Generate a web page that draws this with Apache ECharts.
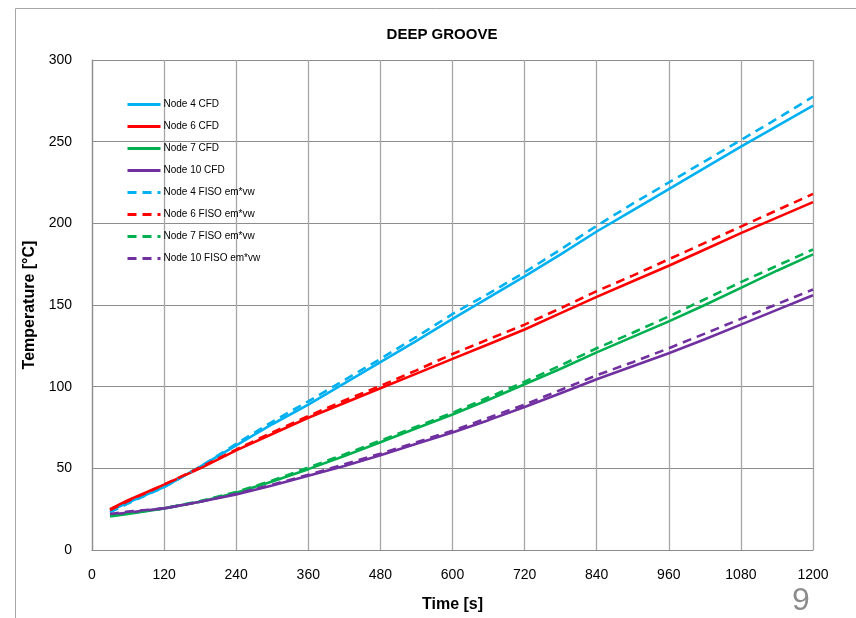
<!DOCTYPE html>
<html>
<head>
<meta charset="utf-8">
<script src="https://cdn.jsdelivr.net/npm/echarts@6/dist/echarts.min.js"></script>
<style>
	html, body { margin: 0; padding: 0; background: #fff; }
	#main { width: 856px; height: 618px; }
</style>
</head>
<body>
<div id="main"></div>
<script>
// time [s]
var timeS = [30, 60, 120, 180, 240, 300, 360, 420, 480, 540, 600, 660, 720, 780, 840, 900, 960, 1020, 1080, 1140, 1200];

// CFD
var node4Cfd  = [24, 29, 38.5, 51, 64, 77, 89, 102, 115, 128, 141.5, 154.5, 167.5, 181, 195, 208, 221, 234, 247, 259.5, 272];
var node6Cfd  = [25, 30.5, 40, 50, 61, 71, 81, 90, 99, 108, 117, 126, 135, 145, 155, 164.5, 174, 184, 194, 203.5, 213];
var node7Cfd  = [20.5, 22, 25.5, 29.5, 35, 42, 49.5, 57.5, 66, 74.5, 83, 92, 101.5, 111, 121, 130.5, 140, 150, 160.5, 171, 181];
var node10Cfd = [21.5, 23, 25.5, 29.5, 34, 39.5, 45.5, 51.5, 58, 65, 72, 79.5, 87.5, 96, 104.5, 112.5, 120.5, 129, 138, 147, 156];

// FISO em*vw
var node4Fiso  = [23, 28.5, 38.5, 51, 65, 78.5, 91, 104, 117, 130.5, 144.5, 157, 170, 184, 198.5, 212, 225, 238, 251, 264, 277.5];
var node6Fiso  = [24.5, 30, 40, 50.5, 61.5, 72, 82, 91.5, 100.5, 110, 120, 129, 138, 148, 158.5, 168, 178, 188, 198, 208, 218];
var node7Fiso  = [21, 22.5, 25.5, 30, 35.5, 42.5, 50.5, 58.5, 67, 75.5, 84, 93.5, 103, 113, 123.5, 133, 143, 153.5, 164, 174, 184];
var node10Fiso = [22, 23.5, 25.5, 29.5, 34.5, 40, 46, 52.5, 59, 66, 73, 81, 89, 98, 107, 115, 123.5, 132.5, 141.5, 150.5, 159.5];

var seriesNames = ['Node 4 CFD', 'Node 6 CFD', 'Node 7 CFD', 'Node 10 CFD',
	'Node 4 FISO em*vw', 'Node 6 FISO em*vw', 'Node 7 FISO em*vw', 'Node 10 FISO em*vw'];
var seriesData = [node4Cfd, node6Cfd, node7Cfd, node10Cfd, node4Fiso, node6Fiso, node7Fiso, node10Fiso];
var colors = ['#00B0F0', '#FF0000', '#00B050', '#7030A0'];

var font = "'Liberation Sans', Arial, sans-serif";

function pairs(vals) {
	var out = [];
	for (var i = 0; i < timeS.length; i++) {
		out.push([timeS[i], vals[i]]);
	}
	return out;
}

var series = [];
for (var i = 0; i < seriesNames.length; i++) {
	series.push({
		name: seriesNames[i],
		type: 'line',
		data: pairs(seriesData[i]),
		showSymbol: false,
		symbol: 'none',
		animation: false,
		color: colors[i % 4],
		lineStyle: {
			width: 2.6,
			color: colors[i % 4],
			type: i < 4 ? 'solid' : [9, 6]
		}
	});
}

var chart = echarts.init(document.getElementById('main'));

var option = {
	backgroundColor: '#fff',
	animation: false,
	title: {
		text: 'DEEP GROOVE',
		left: 437,
		top: 22,
		textAlign: 'center',
		textStyle: { fontFamily: font, fontSize: 15, fontWeight: 'bold', color: '#000' }
	},
	legend: {
		orient: 'vertical',
		left: 121,
		top: 94,
		itemWidth: 33,
		itemHeight: 14,
		itemGap: 10.8,
		itemStyle: { opacity: 0 },
		lineStyle: { width: 3 },
		data: seriesNames,
		textStyle: { fontFamily: font, fontSize: 10, color: '#000', padding: [0, 0, 0, -2] }
	},
	grid: {
		left: 92,
		right: 43,
		top: 60,
		bottom: 66
	},
	xAxis: {
		type: 'value',
		min: 0,
		max: 1200,
		interval: 120,
		name: 'Time [s]',
		nameLocation: 'middle',
		nameGap: 47,
		nameTextStyle: { fontFamily: font, fontSize: 16, fontWeight: 'bold', color: '#000' },
		axisLine: { show: true, lineStyle: { color: '#8c8c8c', width: 1.2 } },
		axisTick: { show: false },
		axisLabel: {
			margin: 18, fontFamily: font, fontSize: 14, color: '#000',
			formatter: function (v) { return String(v); }
		},
		splitLine: { show: true, lineStyle: { color: '#a6a6a6', width: 1.3 } }
	},
	yAxis: {
		type: 'value',
		min: 0,
		max: 300,
		interval: 50,
		name: 'Temperature [°C]',
		nameLocation: 'middle',
		nameGap: 47,
		nameTextStyle: { fontFamily: font, fontSize: 16, fontWeight: 'bold', color: '#000' },
		axisLine: { show: true, lineStyle: { color: '#8c8c8c', width: 1.2 } },
		axisTick: { show: false },
		axisLabel: { margin: 20, fontFamily: font, fontSize: 14, color: '#000' },
		splitLine: { show: true, lineStyle: { color: '#8c8c8c', width: 1.2 } }
	},
	graphic: [
		{
			type: 'rect',
			silent: true,
			shape: { x: 15.5, y: 8.5, width: 900, height: 700 },
			style: { fill: 'none', stroke: '#a6a6a6', lineWidth: 1 }
		},
		{
			type: 'text',
			silent: true,
			left: 792,
			top: 585,
			style: { text: '9', fontFamily: font, fontSize: 32, fill: '#8c8c8c' }
		}
	],
	series: series
};

chart.setOption(option);
</script>
</body>
</html>
